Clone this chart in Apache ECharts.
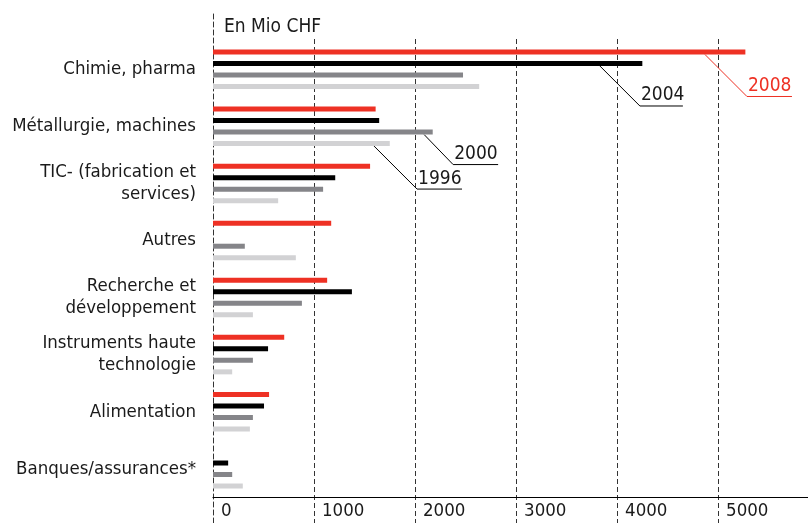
<!DOCTYPE html>
<html>
<head>
<meta charset="utf-8">
<script src="https://cdn.jsdelivr.net/npm/echarts@6/dist/echarts.min.js"></script>
<style>
    html, body { margin: 0; padding: 0; background: #fff; }
    #chart { width: 808px; height: 523px; }
</style>
</head>
<body>
<div id="chart"></div>
<script>
    // secteurs (de haut en bas)
    var categories = [
        'Chimie, pharma',
        'Métallurgie, machines',
        'TIC- (fabrication et\nservices)',
        'Autres',
        'Recherche et\ndéveloppement',
        'Instruments haute\ntechnologie',
        'Alimentation',
        'Banques/assurances*'
    ];
    var years = ['2008', '2004', '2000', '1996'];
    var values2008 = [5270, 1610, 1555, 1170, 1130, 705, 555, null];
    var values2004 = [4250, 1645, 1210, null, 1375, 545, 505, 150];
    var values2000 = [2475, 2175, 1090, 315, 880, 395, 395, 190];
    var values1996 = [2635, 1750, 645, 820, 395, 190, 365, 295];
    var xTicks = [0, 1000, 2000, 3000, 4000, 5000];

    // étiquettes des années : point de départ sur la barre
    var leaderSeries = [0, 1, 2, 3];
    var leaderCategory = [0, 0, 1, 1];
    var leaderValue = [4870, 3830, 2090, 1594];

    var FONT = "'Liberation Sans Narrow', 'DejaVu Sans Condensed', sans-serif";
    var INK = '#1a1a1a';
    var colors = ['#ee3124', '#000000', '#858589', '#d2d2d4'];
    var xMax = 5890;

    var chart = echarts.init(document.getElementById('chart'), null, { renderer: 'canvas' });

    var seriesValues = [values2008, values2004, values2000, values1996];
    var series = seriesValues.map(function (vals, i) {
        return {
            name: years[i],
            type: 'bar',
            xAxisIndex: 0,
            yAxisIndex: 0,
            barWidth: 5,
            barGap: '130%',
            itemStyle: { color: colors[i] },
            silent: true,
            data: vals
        };
    });

    var option = {
        animation: false,
        backgroundColor: '#fff',
        title: {
            text: 'En Mio CHF',
            left: 219,
            top: 13,
            textStyle: { fontFamily: FONT, fontSize: 19, fontWeight: 'normal', color: INK }
        },
        grid: [
            // barres
            { left: 213, right: 0, top: 40.7, bottom: 25.7, outerBoundsMode: 'none' },
            // lignes verticales pointillées + ligne du haut
            { left: 213, right: 0, top: 39, bottom: 0, outerBoundsMode: 'none' },
            // ligne du zéro
            { left: 213, right: 0, top: 14, bottom: 0, outerBoundsMode: 'none' }
        ],
        xAxis: [
            {
                gridIndex: 0,
                type: 'value',
                min: 0,
                max: xMax,
                interval: 1000,
                axisLine: { show: true, lineStyle: { color: '#000', width: 1.2 } },
                axisTick: { show: false },
                splitLine: { show: false },
                axisLabel: {
                    show: true,
                    showMaxLabel: false,
                    align: 'left',
                    margin: 4,
                    padding: [0, 0, 0, 8],
                    fontFamily: FONT,
                    fontSize: 18.5,
                    color: INK,
                    formatter: function (v) { return xTicks.indexOf(v) >= 0 ? String(v) : ''; }
                }
            },
            {
                gridIndex: 1,
                type: 'value',
                position: 'top',
                min: 0,
                max: xMax,
                interval: 1000,
                axisLine: { show: true, lineStyle: { color: '#000', width: 1 } },
                axisTick: { show: false },
                axisLabel: { show: false },
                splitLine: {
                    show: true,
                    showMinLine: false,
                    showMaxLine: false,
                    lineStyle: { color: '#333', width: 1, type: [5, 3] }
                }
            },
            {
                gridIndex: 2,
                type: 'value',
                min: 0,
                max: xMax,
                show: false
            }
        ],
        yAxis: [
            {
                gridIndex: 0,
                type: 'category',
                inverse: true,
                data: categories,
                axisLine: { show: false },
                axisTick: { show: false },
                axisLabel: {
                    margin: 17,
                    fontFamily: FONT,
                    fontSize: 18.5,
                    lineHeight: 22,
                    color: INK
                }
            },
            {
                gridIndex: 1,
                type: 'value',
                show: false
            },
            {
                gridIndex: 2,
                type: 'value',
                axisLine: { show: true, lineStyle: { color: '#333', width: 1, type: [5, 3] } },
                axisTick: { show: false },
                axisLabel: { show: false },
                splitLine: { show: false }
            }
        ],
        series: series
    };

    chart.setOption(option);

    // lignes de renvoi vers les années
    function buildLeaders() {
        var offsets = [[42, 42, 45], [40, 40, 43], [29, 30, 45], [43, 43, 45]];
        var g = [];
        leaderSeries.forEach(function (si, k) {
            var data = chart.getModel().getSeriesByIndex(si).getData();
            var lay = data.getItemLayout(leaderCategory[k]);
            var px = chart.convertToPixel({ xAxisIndex: 0 }, leaderValue[k]);
            var yBottom = Math.max(lay.y, lay.y + lay.height);
            var o = offsets[k];
            var ex = px + o[0];
            var ey = yBottom + o[1];
            var col = si === 0 ? colors[0] : '#000';
            g.push({
                type: 'polyline',
                silent: true,
                shape: { points: [[px, yBottom], [ex, ey], [ex + o[2], ey]] },
                style: { stroke: col, lineWidth: 1, fill: null }
            });
            g.push({
                type: 'text',
                silent: true,
                x: ex + 1,
                y: ey - 1,
                style: {
                    text: years[si],
                    fill: si === 0 ? colors[0] : INK,
                    font: '19px ' + FONT,
                    verticalAlign: 'bottom'
                }
            });
        });
        chart.setOption({ graphic: g });
    }
    buildLeaders();
</script>
</body>
</html>
